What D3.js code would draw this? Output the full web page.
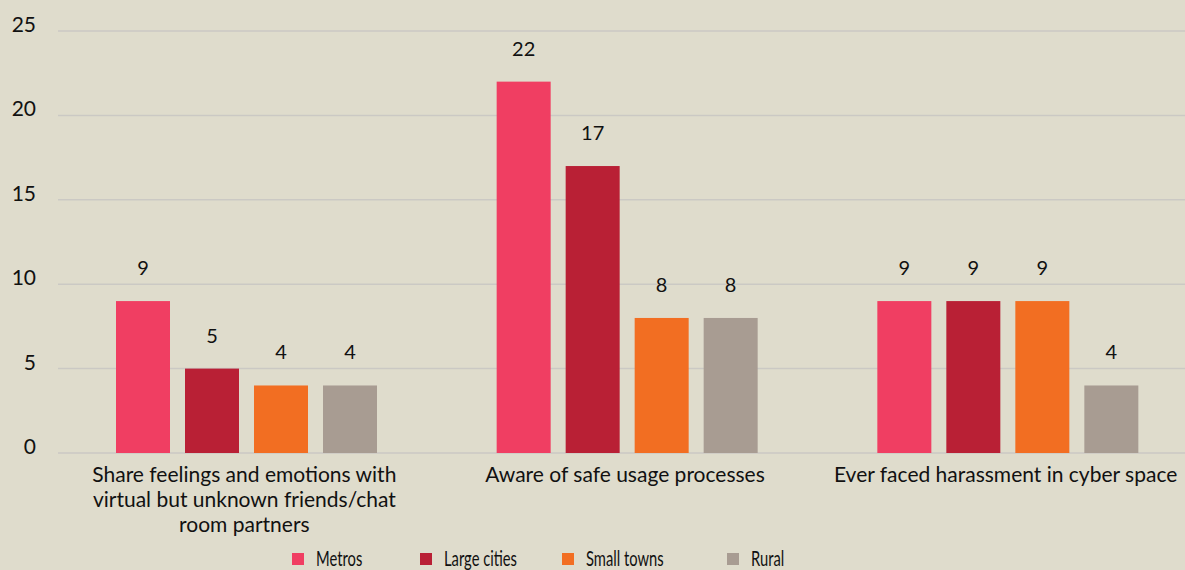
<!DOCTYPE html>
<html>
<head>
<meta charset="utf-8">
<script src="https://cdn.jsdelivr.net/npm/d3@7"></script>
<style>
  body { margin: 0; background: #dfdccc; }
  svg { display: block; font-family: Lato, "Open Sans", sans-serif; }
</style>
</head>
<body>
<svg width="1185" height="570"></svg>
<script>
var categories = [
  ['Share feelings and emotions with', 'virtual but unknown friends/chat', 'room partners'],
  ['Aware of safe usage processes'],
  ['Ever faced harassment in cyber space']
];
var seriesNames = ['Metros', 'Large cities', 'Small towns', 'Rural'];
var metros = [9, 22, 9];
var largeCities = [5, 17, 9];
var smallTowns = [4, 8, 9];
var rural = [4, 8, 4];
var yTicks = [0, 5, 10, 15, 20, 25];

var colors = ['#f03e62', '#b92035', '#f26e22', '#a89c92'];
var allSeries = [metros, largeCities, smallTowns, rural];

var svg = d3.select('svg');

var y = d3.scaleLinear().domain([0, 25]).range([453, 31]);
var x0 = d3.scaleBand().domain(d3.range(categories.length)).range([56, 1198]);
var x1 = d3.scaleBand().domain(d3.range(seriesNames.length))
    .range([60, 60 + 4 * 69 - 15]).paddingInner(15 / 69);

// gridlines
svg.selectAll('.grid')
  .data(yTicks)
  .enter()
  .append('line')
  .attr('x1', 58)
  .attr('x2', 1185)
  .attr('y1', function(d) { return y(d); })
  .attr('y2', function(d) { return y(d); })
  .attr('stroke', '#cbc9c4')
  .attr('stroke-width', 1.5);

svg.selectAll('.ytick')
  .data(yTicks)
  .enter()
  .append('text')
  .attr('x', 36)
  .attr('y', function(d) { return y(d) + 1; })
  .attr('text-anchor', 'end')
  .attr('font-size', 21)
  .attr('fill', '#111')
  .text(function(d) { return d; });

var groups = svg.selectAll('.group')
  .data(categories)
  .enter()
  .append('g')
  .attr('transform', function(d, i) {
    return 'translate(' + x0(i) + ',0)';
  });

groups.selectAll('rect')
  .data(function(d, i) {
    return allSeries.map(function(s, j) { return { s: j, v: s[i] }; });
  })
  .enter()
  .append('rect')
  .attr('x', function(d) { return x1(d.s); })
  .attr('width', x1.bandwidth())
  .attr('y', function(d) { return y(d.v); })
  .attr('height', function(d) { return y(0) - y(d.v); })
  .attr('fill', function(d) { return colors[d.s]; });

groups.selectAll('.val')
  .data(function(d, i) {
    return allSeries.map(function(s, j) { return { s: j, v: s[i] }; });
  })
  .enter()
  .append('text')
  .attr('x', function(d) { return x1(d.s) + x1.bandwidth() / 2; })
  .attr('y', function(d) { return y(d.v) - 26; })
  .attr('text-anchor', 'middle')
  .attr('font-size', 20)
  .attr('fill', '#111')
  .text(function(d) { return d.v; });

groups.append('text')
  .attr('text-anchor', 'middle')
  .attr('font-size', 21)
  .attr('fill', '#111')
  .selectAll('tspan')
  .data(function(d) { return d; })
  .enter()
  .append('tspan')
  .attr('x', x0.bandwidth() / 2 - 2)
  .attr('y', function(d, i) { return 482 + i * 25; })
  .text(function(d) { return d; });

// legend
var legendX = [292, 420, 562, 727];
var legend = svg.selectAll('.legend')
  .data(seriesNames)
  .enter()
  .append('g')
  .attr('transform', function(d, i) {
    return 'translate(' + legendX[i] + ',553)';
  });
legend.append('rect')
  .attr('width', 12)
  .attr('height', 12)
  .attr('fill', function(d, i) { return colors[i]; });
legend.append('text')
  .attr('transform', 'translate(24,13) scale(0.67,1)')
  .attr('font-size', 22)
  .attr('fill', '#111')
  .text(function(d) { return d; });
</script>
</body>
</html>
